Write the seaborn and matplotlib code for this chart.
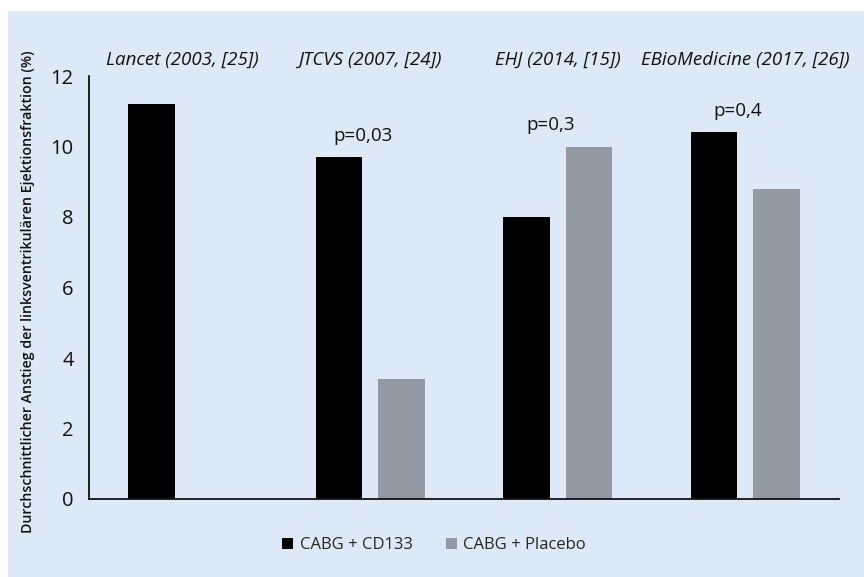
import matplotlib
matplotlib.use("Agg")
import matplotlib.pyplot as plt
import seaborn as sns
import pandas as pd
from matplotlib.patches import Rectangle

studies = ["Lancet (2003, [25])", "JTCVS (2007, [24])", "EHJ (2014, [15])", "EBioMedicine (2017, [26])"]
groups = ["CABG + CD133", "CABG + Placebo"]
cd133 = [11.2, 9.7, 8.0, 10.4]
placebo = [None, 3.4, 10.0, 8.8]
pvalues = [None, "p=0,03", "p=0,3", "p=0,4"]

rows = []
for s, a, b in zip(studies, cd133, placebo):
    rows.append({"study": s, "group": groups[0], "value": a})
    rows.append({"study": s, "group": groups[1], "value": b})
df = pd.DataFrame(rows)

sns.set_theme(style="white")
plt.rcParams["font.family"] = ["Open Sans", "DejaVu Sans"]

bg = "#dde9f7"
fig = plt.figure(figsize=(8.64, 5.77), dpi=100)
fig.patch.set_facecolor("white")
fig.patches.append(Rectangle((8 / 864, 0), 1, 1 - 11 / 577, transform=fig.transFigure,
                             facecolor=bg, edgecolor="none", zorder=-10))
ax = fig.add_axes([89 / 864, 1 - 499 / 577, 750 / 864, 423 / 577])
ax.set_facecolor(bg)
ax.patch.set_alpha(0)

sns.barplot(data=df, x="study", y="value", hue="group", order=studies, hue_order=groups,
            palette=["#000000", "#939aa3"], width=0.667, gap=0.25, ax=ax,
            saturation=1, legend=True, edgecolor="none")

ax.set_ylim(0, 12)
ax.set_xlim(-0.5, 3.5)
ax.set_yticks([0, 2, 4, 6, 8, 10, 12])
ax.tick_params(axis="y", length=0, pad=11, labelsize=14.5, colors="#111111")
ax.xaxis.tick_top()
ax.tick_params(axis="x", length=0, pad=5, labelsize=13.5, colors="#111111")
for lbl in ax.get_xticklabels():
    lbl.set_fontstyle("italic")
ax.set_xlabel("")
ax.set_ylabel("Durchschnittlicher Anstieg der linksventrikulären Ejektionsfraktion (%)",
              fontsize=10.2, fontweight="semibold", color="#111111")
ax.yaxis.set_label_coords(-0.072, 0.49)

for s in ["top", "right"]:
    ax.spines[s].set_visible(False)
for s in ["left", "bottom"]:
    ax.spines[s].set_color("#111111")
    ax.spines[s].set_linewidth(1.3)

for i, (p, a, b) in enumerate(zip(pvalues, cd133, placebo)):
    if p is None:
        continue
    top = max(a, b if b is not None else 0)
    ax.text(i - 0.04, top + 0.6, p, ha="center", va="center", fontsize=13.5, color="#111111")

handles, labels = ax.get_legend_handles_labels()
ax.legend_.remove()
fig.legend(handles, labels, loc="center", bbox_to_anchor=(434 / 864, 1 - 545 / 577), ncol=2,
           frameon=False, fontsize=12, handlelength=0.65, handleheight=0.65, handletextpad=0.4,
           columnspacing=2.0)

fig.savefig("out.png", dpi=100, facecolor=fig.get_facecolor())
